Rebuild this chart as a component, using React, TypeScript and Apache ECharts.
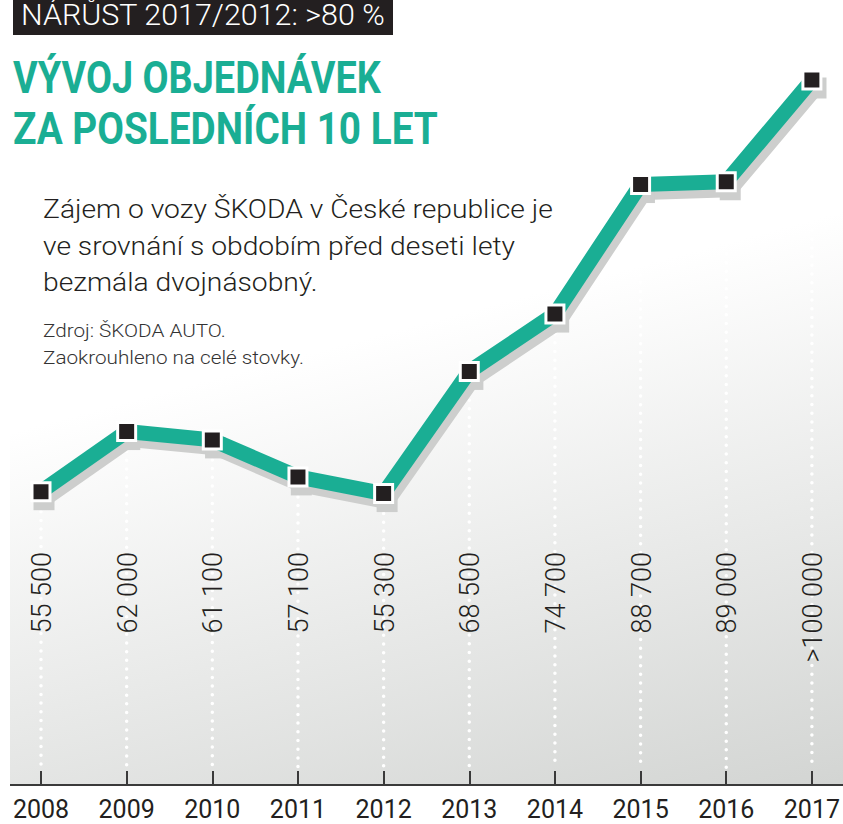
import React, { useEffect, useRef } from "react";
import * as echarts from "echarts";

const years = ["2008", "2009", "2010", "2011", "2012", "2013", "2014", "2015", "2016", "2017"];
const orders = [55500, 62000, 61100, 57100, 55300, 68500, 74700, 88700, 89000, 100000];
const valueLabels = ["55 500", "62 000", "61 100", "57 100", "55 300", "68 500", "74 700", "88 700", "89 000", ">100 000"];
const badgeText = "NÁRŮST 2017/2012: >80 %";
const titleLines = ["VÝVOJ OBJEDNÁVEK", "ZA POSLEDNÍCH 10 LET"];
const introLines = [
  "Zájem o vozy ŠKODA v České republice je",
  "ve srovnání s obdobím před deseti lety",
  "bezmála dvojnásobný.",
];
const sourceLines = ["Zdroj: ŠKODA AUTO.", "Zaokrouhleno na celé stovky."];

const Y_MIN = 23800;
const Y_MAX = 100000;
const GREEN = "#1aae94";
const INK = "#231f20";
const SHADOW = "#cdcecd";
const LABEL_TOP = 552;
const FONT = "Roboto, 'Noto Sans', sans-serif";
const TITLE_SCALE = [0.86, 0.88];

export default function App() {
  const ref = useRef<HTMLDivElement>(null);

  useEffect(() => {
    if (!ref.current) return;
    const chart = echarts.init(ref.current, undefined, { renderer: "svg" });

    const bg = new echarts.graphic.LinearGradient(
      702, 249, 843, 780,
      [
        { offset: 0, color: "#ffffff" },
        { offset: 1, color: "#d3d5d3" },
      ],
      true
    );

    const graphic: any[] = [
      { type: "rect", z: 0, silent: true, shape: { x: 10, y: 0, width: 833, height: 785 }, style: { fill: bg } },
      { type: "line", z: 10, silent: true, shape: { x1: 10, y1: 785, x2: 843, y2: 785 }, style: { stroke: "#3a3a3a", lineWidth: 2 } },
      { type: "rect", z: 10, shape: { x: 13, y: 0, width: 380, height: 35 }, style: { fill: INK } },
      {
        type: "text", z: 11, x: 21, y: 15, scaleX: 1.05, scaleY: 1,
        style: { text: badgeText, fill: "#ffffff", font: `300 29px ${FONT}`, align: "left", verticalAlign: "middle" },
      },
      ...titleLines.map((t, i) => ({
        type: "text", z: 11, x: 13, y: 78 + i * 51.5, scaleX: TITLE_SCALE[i], scaleY: 1,
        style: { text: t, fill: GREEN, font: `bold 44px ${FONT}`, align: "left", verticalAlign: "middle" },
      })),
      ...introLines.map((t, i) => ({
        type: "text", z: 11, x: 43, y: 210 + i * 36.5, scaleX: 1.13, scaleY: 1,
        style: { text: t, fill: INK, font: `300 25px ${FONT}`, align: "left", verticalAlign: "middle" },
      })),
      ...sourceLines.map((t, i) => ({
        type: "text", z: 11, x: 43, y: 331 + i * 27, scaleX: 1.15, scaleY: 1,
        style: { text: t, fill: "#333333", font: `300 18px ${FONT}`, align: "left", verticalAlign: "middle" },
      })),
    ];

    const option: any = {
      animation: false,
      backgroundColor: "#ffffff",
      graphic,
      grid: [
        { left: 41, right: 30, top: 80, bottom: 39 },
        { left: 44, right: 27, top: 88, bottom: 31 },
      ],
      xAxis: [
        {
          type: "category",
          gridIndex: 0,
          data: years,
          boundaryGap: false,
          axisLine: { show: false },
          axisTick: { show: true, inside: true, length: 14, interval: 0, lineStyle: { color: "#3a3a3a", width: 2 } },
          axisLabel: { interval: 0, margin: 12, color: INK, fontSize: 25, fontWeight: 400, fontFamily: FONT },
          splitLine: { show: false },
        },
        { type: "category", gridIndex: 1, data: years, boundaryGap: false, show: false },
      ],
      yAxis: [
        { type: "value", gridIndex: 0, min: Y_MIN, max: Y_MAX, show: false, splitLine: { show: false } },
        { type: "value", gridIndex: 1, min: Y_MIN, max: Y_MAX, show: false, splitLine: { show: false } },
      ],
      series: [
        {
          type: "custom",
          xAxisIndex: 0,
          yAxisIndex: 0,
          z: 2,
          silent: true,
          data: orders.map((v, i) => [i, v]),
          encode: { x: 0, y: 1 },
          renderItem: (params: any, api: any) => {
            const i = params.dataIndex;
            const pt = api.coord([api.value(0), api.value(1)]);
            const base = api.coord([api.value(0), Y_MIN]);
            return {
              type: "group",
              children: [
                {
                  type: "line",
                  shape: { x1: pt[0], y1: pt[1] + 20, x2: pt[0], y2: base[1] - 16 },
                  style: { stroke: "#ffffff", lineWidth: 3.5, lineDash: [0, 8.7], lineCap: "round" },
                },
                {
                  type: "text",
                  x: pt[0] + 1,
                  y: LABEL_TOP,
                  rotation: Math.PI / 2,
                  style: {
                    text: valueLabels[i],
                    fill: INK,
                    font: `300 27px ${FONT}`,
                    align: "right",
                    verticalAlign: "middle",
                  },
                },
              ],
            };
          },
        },
        {
          type: "line",
          xAxisIndex: 1,
          yAxisIndex: 1,
          z: 3,
          silent: true,
          data: orders,
          symbol: "rect",
          symbolSize: 21,
          itemStyle: { color: SHADOW },
          lineStyle: { color: SHADOW, width: 15 },
        },
        {
          type: "line",
          xAxisIndex: 0,
          yAxisIndex: 0,
          z: 4,
          silent: true,
          data: orders,
          symbol: "rect",
          symbolSize: 18,
          showAllSymbol: true,
          itemStyle: { color: INK, borderColor: "#ffffff", borderWidth: 3 },
          lineStyle: { color: GREEN, width: 15 },
        },
      ],
    };

    chart.setOption(option);
    return () => chart.dispose();
  }, []);

  return (
    <div
      ref={ref}
      style={{ position: "fixed", left: 0, top: 0, width: 843, height: 824 }}
    />
  );
}
